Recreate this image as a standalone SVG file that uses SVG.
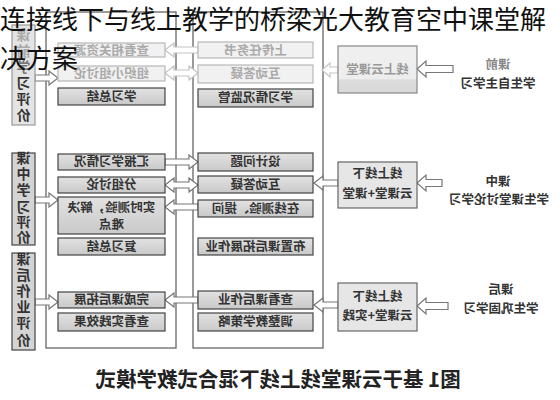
<svg xmlns="http://www.w3.org/2000/svg" width="560" height="400" viewBox="0 0 560 400">
<defs>
<linearGradient id="g" x1="0" y1="0" x2="0" y2="1"><stop offset="0" stop-color="#e2e2e2"/><stop offset="1" stop-color="#c9c9c9"/></linearGradient>
<linearGradient id="gp" x1="0" y1="0" x2="0" y2="1"><stop offset="0" stop-color="#f0f0f0"/><stop offset="0.7" stop-color="#ededed"/><stop offset="0.72" stop-color="#dcdcdc"/><stop offset="1" stop-color="#d8d8d8"/></linearGradient>
</defs>
<style>
.cont{fill:none;stroke:#666;stroke-width:1.3}
.box{fill:url(#g);stroke:#444;stroke-width:1.2}
.fbox{fill:#f1f1f1;stroke:#b8b8b8;stroke-width:1.2}
.lab{fill:#d4d4d4;stroke:#444;stroke-width:1.2}
.plat{fill:#e6e6e6;stroke:#666;stroke-width:1.2}
.arr{fill:#fff;stroke:#777;stroke-width:1.2}
.farr{fill:#fff;stroke:#c4c4c4;stroke-width:1.2}
.t{font-family:"Noto Sans CJK SC","Noto Sans",sans-serif;font-size:12.5px;font-weight:bold;fill:#333;text-anchor:middle}
.ft{fill:#aaa}
.lt{font-size:14px}
.cap{font-size:20.5px;fill:#222}
.title{font-family:"Noto Sans CJK SC","Noto Sans",sans-serif;font-size:26px;fill:#111}
</style>
<rect width="560" height="400" fill="#fff"/>

<g id="containers">
<rect class="cont" x="46" y="12" width="130" height="336"/>
<rect class="cont" x="193" y="12" width="130" height="336"/>
</g>

<g id="connectors">
<path class="arr" d="M417,69 L426,61 L426,65.5 L453,65.5 L453,72.5 L426,72.5 L426,77 Z"/>
<path class="arr" d="M417,183 L426,175 L426,179.5 L442,179.5 L442,186.5 L426,186.5 L426,191 Z"/>
<path class="arr" d="M417,306 L426,298 L426,302.5 L448,302.5 L448,309.5 L426,309.5 L426,314 Z"/>
<path class="farr" d="M322,70 L330,63 L330,67 L338,67 L338,73 L330,73 L330,77 Z"/>
<path class="arr" d="M314,183 L323,176 L323,180 L338,180 L338,186 L323,186 L323,190 Z"/>
<path class="arr" d="M314,305 L323,298 L323,302 L338,302 L338,308 L323,308 L323,312 Z"/>
<path class="farr" d="M165,50 L174,43 L174,47 L198,47 L198,53 L174,53 L174,57 Z"/>
<path class="farr" d="M165,73 L174,66 L174,70 L189,70 L189,66 L198,73 L189,80 L189,76 L174,76 L174,80 Z"/>
<path class="arr" d="M198,162 L189,155 L189,159 L165,159 L165,165 L189,165 L189,169 Z"/>
<path class="arr" d="M165,185 L174,178 L174,182 L189,182 L189,178 L198,185 L189,192 L189,188 L174,188 L174,192 Z"/>
<path class="arr" d="M165,207 L174,200 L174,204 L198,204 L198,210 L174,210 L174,214 Z"/>
<path class="arr" d="M165,300 L174,293 L174,297 L198,297 L198,303 L174,303 L174,307 Z"/>
<path class="arr" d="M58,78 L49,71 L49,75 L35,75 L35,81 L49,81 L49,85 Z"/>
<path class="arr" d="M58,200 L49,193 L49,197 L35,197 L35,203 L49,203 L49,207 Z"/>
<path class="arr" d="M58,302 L49,295 L49,299 L35,299 L35,305 L49,305 L49,309 Z"/>
</g>

<g id="eval-pre">
<rect class="lab" x="12" y="25" width="23" height="100" style="fill:#e4e4e4;stroke:#999"/>
<g class="t lt" transform="scale(-1,1)">
<text x="-23.5" y="40" class="ft">课</text><text x="-23.5" y="56" class="ft">前</text>
<text x="-23.5" y="72" style="fill:#777">学</text><text x="-23.5" y="88">习</text>
<text x="-23.5" y="104">评</text><text x="-23.5" y="120">价</text>
</g>
</g>
<g id="eval-in">
<rect class="lab" x="12" y="153" width="23" height="92"/>
<g class="t lt" transform="scale(-1,1)">
<text x="-23.5" y="163">课</text><text x="-23.5" y="179">中</text>
<text x="-23.5" y="195">学</text><text x="-23.5" y="212">习</text>
<text x="-23.5" y="227">评</text><text x="-23.5" y="242">价</text>
</g>
</g>
<g id="eval-post">
<rect class="lab" x="12" y="253" width="23" height="97"/>
<g class="t lt" transform="scale(-1,1)">
<text x="-23.5" y="264">课</text><text x="-23.5" y="280">后</text>
<text x="-23.5" y="296">作</text><text x="-23.5" y="312">业</text>
<text x="-23.5" y="328">评</text><text x="-23.5" y="345">价</text>
</g>
</g>

<g id="s1"><rect class="fbox" x="58" y="43" width="107" height="14"/><text class="t ft" transform="scale(-1,1)" x="-111.5" y="55">查看相关资源</text></g>
<g id="s2"><rect class="fbox" x="58" y="66" width="107" height="15"/><text class="t ft" transform="scale(-1,1)" x="-111.5" y="78">组织小组讨论</text></g>
<g id="s3"><rect class="box" x="58" y="88" width="107" height="17"/><text class="t" transform="scale(-1,1)" x="-111.5" y="101">学习总结</text></g>
<g id="s4"><rect class="box" x="58" y="154" width="107" height="16"/><text class="t" transform="scale(-1,1)" x="-111.5" y="166">汇报学习情况</text></g>
<g id="s5"><rect class="box" x="58" y="177" width="107" height="16"/><text class="t" transform="scale(-1,1)" x="-111.5" y="189">分组讨论</text></g>
<g id="s6"><rect class="box" x="58" y="197" width="107" height="37"/><text class="t" transform="scale(-1,1)" x="-111.5" y="212">实时测验，解决</text><text class="t" transform="scale(-1,1)" x="-111.5" y="229">难点</text></g>
<g id="s7"><rect class="box" x="58" y="238" width="107" height="17"/><text class="t" transform="scale(-1,1)" x="-111.5" y="251">复习总结</text></g>
<g id="s8"><rect class="box" x="58" y="292" width="107" height="16"/><text class="t" transform="scale(-1,1)" x="-111.5" y="304">完成课后拓展</text></g>
<g id="s9"><rect class="box" x="58" y="313" width="107" height="18"/><text class="t" transform="scale(-1,1)" x="-111.5" y="326">查看实践效果</text></g>

<g id="t1"><rect class="fbox" x="198" y="42" width="115" height="16"/><text class="t ft" transform="scale(-1,1)" x="-255.5" y="55">上传任务书</text></g>
<g id="t2"><rect class="fbox" x="198" y="65" width="115" height="18"/><text class="t ft" transform="scale(-1,1)" x="-255.5" y="78">互动答疑</text></g>
<g id="t3"><rect class="box" x="198" y="89" width="115" height="18"/><text class="t" transform="scale(-1,1)" x="-255.5" y="102">学习情况监管</text></g>
<g id="t4"><rect class="box" x="198" y="153" width="115" height="18"/><text class="t" transform="scale(-1,1)" x="-255.5" y="166">设计问题</text></g>
<g id="t5"><rect class="box" x="198" y="176" width="115" height="17"/><text class="t" transform="scale(-1,1)" x="-255.5" y="189">互动答疑</text></g>
<g id="t6"><rect class="box" x="198" y="200" width="115" height="17"/><text class="t" transform="scale(-1,1)" x="-255.5" y="213">在线测验、提问</text></g>
<g id="t7"><rect class="box" x="198" y="238" width="115" height="17"/><text class="t" transform="scale(-1,1)" x="-255.5" y="251">布置课后拓展作业</text></g>
<g id="t8"><rect class="box" x="198" y="291" width="115" height="18"/><text class="t" transform="scale(-1,1)" x="-255.5" y="304">查看课后作业</text></g>
<g id="t9"><rect class="box" x="198" y="313" width="115" height="18"/><text class="t" transform="scale(-1,1)" x="-255.5" y="326">调整教学策略</text></g>

<g id="p1"><rect class="plat" x="338" y="46" width="79" height="47" style="fill:url(#gp);stroke:#888"/><text class="t" style="fill:#999" transform="scale(-1,1)" x="-377.5" y="74">线上云课堂</text></g>
<g id="p2"><rect class="plat" x="338" y="162" width="79" height="46"/><text class="t" transform="scale(-1,1)" x="-377.5" y="178">线上线下</text><text class="t" transform="scale(-1,1)" x="-377.5" y="198">云课堂+课堂</text></g>
<g id="p3"><rect class="plat" x="338" y="283" width="79" height="48"/><text class="t" transform="scale(-1,1)" x="-377.5" y="301">线上线下</text><text class="t" transform="scale(-1,1)" x="-377.5" y="320">云课堂+实践</text></g>

<g id="r1"><text class="t" style="fill:#888" transform="scale(-1,1)" x="-498" y="69">课前</text><text class="t" transform="scale(-1,1)" x="-498" y="88">学生自主学习</text></g>
<g id="r2"><text class="t" transform="scale(-1,1)" x="-498" y="186">课中</text><text class="t" transform="scale(-1,1)" x="-499" y="204">学生课堂讨论学习</text></g>
<g id="r3"><text class="t" transform="scale(-1,1)" x="-501" y="294">课后</text><text class="t" transform="scale(-1,1)" x="-501" y="313">学生巩固学习</text></g>

<text class="t cap" transform="scale(-1,1)" x="-278" y="387">图1 基于云课堂线上线下混合式教学模式</text>

<text class="title" x="0" y="29">连接线下与线上教学的桥梁光大教育空中课堂解</text>
<text class="title" x="0" y="68">决方案</text>
</svg>
